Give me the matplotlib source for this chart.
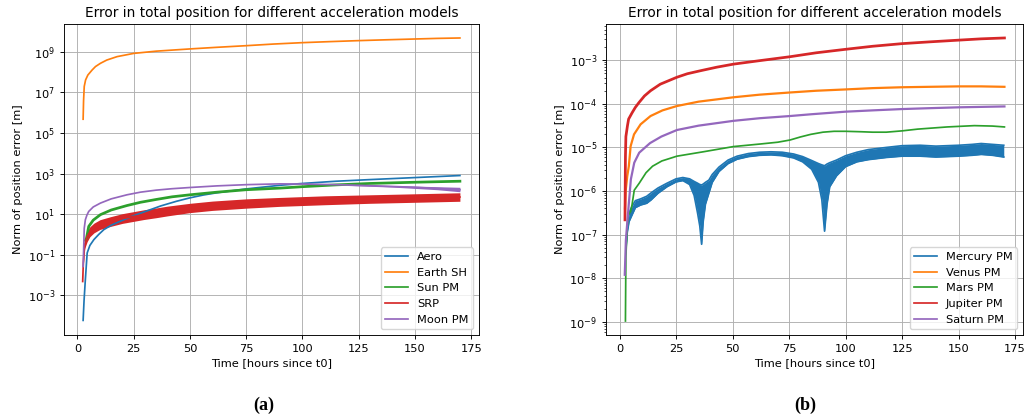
import matplotlib.pyplot as plt
import numpy as np

# values are log10 of the position error [m]
time_ticks = [0, 25, 50, 75, 100, 125, 150, 175]

# ---- panel (a)
aero_t = [2.5, 2.9, 3.4, 4.3, 5.5, 7.3, 9.5, 11.7, 15, 19.1, 25, 30, 37, 44, 50, 56, 62, 75, 90, 100, 115, 130,
          150, 170]
aero_v = [-4.25, -3.3, -2.4, -0.92, -0.55, -0.26, 0.0, 0.23, 0.45, 0.65, 0.92, 1.12, 1.4, 1.63, 1.8, 1.94, 2.05,
          2.24, 2.42, 2.51, 2.62, 2.7, 2.8, 2.9]

earth_t = [2.5, 2.7, 3.0, 3.6, 4.6, 6.5, 8, 10.2, 13, 17.6, 25, 35, 50, 62, 75, 87, 100, 112, 125, 137, 150, 160, 170]
earth_v = [5.68, 6.6, 7.3, 7.62, 7.86, 8.11, 8.28, 8.44, 8.6, 8.77, 8.93, 9.04, 9.15, 9.23, 9.31, 9.39, 9.46, 9.51,
           9.56, 9.6, 9.64, 9.67, 9.69]

sun_t = [3.5, 4.0, 5.0, 7.0, 10.2, 15, 22, 28, 35, 42, 50, 62, 75, 90, 100, 115, 130, 150, 170]
sun_v = [-0.3, -0.19, 0.39, 0.7, 0.97, 1.2, 1.42, 1.58, 1.72, 1.85, 1.95, 2.08, 2.2, 2.28, 2.35, 2.44, 2.51, 2.57, 2.62]

srp_t = [2.3, 2.6, 3.2, 4.3, 5.5, 7.3, 10, 14.7, 20, 25, 29.5, 35, 40, 50, 60, 75, 90, 110, 130, 150, 170]
srp_v = [-2.33, -1.4, -0.5, -0.11, 0.12, 0.31, 0.48, 0.63, 0.78, 0.88, 0.97, 1.06, 1.15, 1.3, 1.41, 1.52, 1.6,
         1.68, 1.74, 1.79, 1.84]
srp_hi = [-2.3, -1.3, -0.3, 0.15, 0.37, 0.55, 0.72, 0.87, 1.02, 1.12, 1.21, 1.3, 1.39, 1.53, 1.64, 1.75, 1.82,
          1.9, 1.95, 2.0, 2.05]
srp_lo = [-2.36, -1.5, -0.7, -0.36, -0.12, 0.07, 0.24, 0.39, 0.54, 0.64, 0.73, 0.82, 0.91, 1.07, 1.18, 1.29, 1.38,
          1.46, 1.53, 1.58, 1.63]

moon_t = [2.5, 2.8, 3.0, 3.5, 4.2, 5, 7, 10.2, 15, 22, 28, 35, 42, 50, 62, 75, 90, 100, 115, 130, 150, 170]
moon_v = [-1.59, -0.5, 0.3, 0.72, 0.95, 1.13, 1.35, 1.54, 1.75, 1.95, 2.08, 2.18, 2.25, 2.31, 2.39, 2.45, 2.49,
          2.48, 2.45, 2.4, 2.32, 2.2]
moon_band_t = [120, 140, 160, 170]
moon_band_hi = [2.46, 2.41, 2.35, 2.32]
moon_band_lo = [2.41, 2.33, 2.2, 2.1]

# ---- panel (b)
merc_t = [2.8, 3.4, 4.2, 5.5, 7, 9.3, 12, 14, 17, 21, 25, 28, 31, 33, 34.5, 35.5, 36.3, 37, 38, 39.5, 41, 44, 48,
          52, 57, 62, 67, 72, 77, 81, 85, 88, 89.5, 90.7, 91.8, 93, 96, 100, 105, 110, 118, 125, 133, 140, 150, 156,
          160, 165, 170]
merc_hi = [-7.3, -6.85, -6.5, -6.35, -6.22, -6.18, -6.12, -6.04, -5.93, -5.82, -5.72, -5.69, -5.72, -5.78, -5.82,
           -5.85, -5.86, -5.84, -5.8, -5.75, -5.62, -5.45, -5.29, -5.2, -5.14, -5.11, -5.1, -5.11, -5.15, -5.21,
           -5.3, -5.37, -5.4, -5.42, -5.38, -5.35, -5.29, -5.19, -5.11, -5.05, -5.0, -4.96, -4.95, -4.97, -4.95,
           -4.93, -4.91, -4.93, -4.95]
merc_lo = [-7.35, -6.95, -6.7, -6.55, -6.38, -6.32, -6.28, -6.2, -6.05, -5.9, -5.79, -5.76, -5.85, -6.1, -6.5,
           -6.8, -7.22, -6.7, -6.3, -6.05, -5.8, -5.55, -5.37, -5.27, -5.21, -5.18, -5.17, -5.19, -5.24, -5.33,
           -5.5, -5.8, -6.2, -6.92, -6.3, -5.9, -5.65, -5.44, -5.33, -5.28, -5.23, -5.2, -5.2, -5.22, -5.2,
           -5.18, -5.16, -5.18, -5.22]

venus_t = [2.4, 2.7, 3.4, 4.1, 4.9, 6.4, 9.3, 13.7, 19, 25.4, 35, 50.4, 62, 75.4, 87, 100, 112, 125, 137, 150, 160,
           170.3]
venus_v = [-6.4, -6.0, -5.66, -5.43, -4.97, -4.7, -4.47, -4.28, -4.15, -4.05, -3.95, -3.85, -3.79, -3.74, -3.7,
           -3.67, -3.64, -3.62, -3.61, -3.6, -3.6, -3.61]

mars_t = [2.6, 2.8, 3.4, 3.8, 4.9, 5.5, 6.5, 8.7, 11.7, 14.6, 18.7, 25.4, 37, 50.4, 62.5, 70, 75.4, 80, 84.6, 90,
          94.9, 100, 106.8, 112, 118, 125, 131.9, 145, 157, 165, 170.3]
mars_v = [-8.98, -7.5, -6.8, -6.55, -6.47, -6.32, -5.98, -5.82, -5.58, -5.43, -5.31, -5.2, -5.1, -4.98, -4.92,
          -4.88, -4.83, -4.76, -4.7, -4.65, -4.63, -4.63, -4.64, -4.65, -4.65, -4.62, -4.58, -4.53, -4.5, -4.51,
          -4.53]

jup_t = [2.4, 2.6, 2.8, 3.5, 4.0, 5.6, 7, 8.6, 11, 13.7, 18, 25.4, 30, 35.9, 43, 50.4, 62, 75.4, 87, 100, 112, 125,
         137, 150, 160, 170.3]
jup_v = [-6.66, -5.2, -4.75, -4.5, -4.35, -4.2, -4.08, -3.97, -3.82, -3.7, -3.55, -3.39, -3.31, -3.24, -3.16, -3.09,
         -3.01, -2.92, -2.83, -2.75, -2.68, -2.62, -2.58, -2.54, -2.51, -2.49]

saturn_t = [2.3, 2.8, 4.0, 5.0, 6.5, 8.7, 13.5, 18.5, 25.4, 35, 50.4, 62, 75.4, 84.6, 100, 112, 125, 137, 150, 170.3]
saturn_v = [-7.92, -7.12, -6.35, -5.73, -5.35, -5.12, -4.9, -4.75, -4.6, -4.5, -4.39, -4.33, -4.28, -4.24, -4.18,
            -4.15, -4.12, -4.1, -4.08, -4.06]

S = 0.82  # the original figure was scaled down
LW = 1.5 * S


def p(v):
    return np.power(10.0, v)


def style_axes(ax, title, ylim):
    ax.set_yscale("log")
    ax.set_xlim(-6, 178.5)
    ax.set_ylim(*ylim)
    ax.set_xticks(time_ticks)
    ax.grid(True, color="#b0b0b0", lw=0.8 * S)
    ax.set_axisbelow(True)
    ax.set_title(title, fontsize=12 * S, pad=6 * S)
    ax.set_xlabel("Time [hours since t0]", fontsize=10 * S, labelpad=4 * S)
    ax.set_ylabel("Norm of position error [m]", fontsize=10 * S, labelpad=4 * S)
    ax.tick_params(labelsize=10 * S, width=0.8 * S, length=3.5 * S)
    ax.tick_params(which="minor", width=0.6 * S, length=2 * S)
    for s in ax.spines.values():
        s.set_linewidth(0.8 * S)
    leg = ax.legend(loc="lower right", fontsize=10 * S, borderaxespad=0.5, handlelength=2.0)
    for line in leg.get_lines():
        line.set_linewidth(LW)


fig = plt.figure(figsize=(10.24, 4.19), dpi=100)
ax1 = fig.add_axes([0.0625, 0.2005, 0.4053, 0.7422])
ax2 = fig.add_axes([0.5918, 0.2005, 0.4072, 0.7422])

# (a)
ax1.plot(aero_t, p(aero_v), color="C0", lw=LW, label="Aero")
ax1.plot(earth_t, p(earth_v), color="C1", lw=LW, label="Earth SH")
ax1.plot(sun_t, p(sun_v), color="C2", lw=LW * 1.6, label="Sun PM")
ax1.fill_between(srp_t, p(srp_lo), p(srp_hi), color="C3", lw=0)
ax1.plot(srp_t, p(srp_v), color="C3", lw=LW, label="SRP")
ax1.plot(moon_t, p(moon_v), color="C4", lw=LW, label="Moon PM")
ax1.fill_between(moon_band_t, p(moon_band_lo), p(moon_band_hi), color="C4", lw=0)
style_axes(ax1, "Error in total position for different acceleration models", (p(-4.97), p(10.38)))
ax1.yaxis.set_minor_locator(plt.NullLocator())

# (b)
ax2.fill_between(merc_t, p(merc_lo), p(merc_hi), color="C0", lw=0)
ax2.plot(merc_t, p(merc_hi), color="C0", lw=LW, label="Mercury PM")
ax2.plot(merc_t, p(merc_lo), color="C0", lw=LW)
ax2.plot(venus_t, p(venus_v), color="C1", lw=LW * 1.3, label="Venus PM")
ax2.plot(mars_t, p(mars_v), color="C2", lw=LW, label="Mars PM")
ax2.plot(jup_t, p(jup_v), color="C3", lw=LW * 1.6, label="Jupiter PM")
ax2.plot(saturn_t, p(saturn_v), color="C4", lw=LW * 1.3, label="Saturn PM")
style_axes(ax2, "Error in total position for different acceleration models", (p(-9.3), p(-2.17)))

fig.text(0.258, 0.033, "(a)", ha="center", va="center", fontsize=13, fontweight="bold", family="Liberation Serif")
fig.text(0.786, 0.033, "(b)", ha="center", va="center", fontsize=13, fontweight="bold", family="Liberation Serif")

fig.savefig("out.png", dpi=100)
